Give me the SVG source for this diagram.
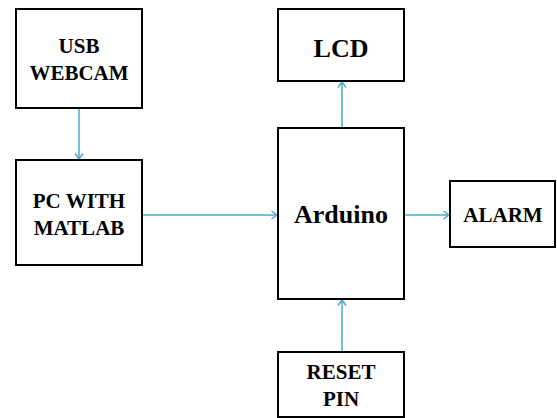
<svg xmlns="http://www.w3.org/2000/svg" width="557" height="418" viewBox="0 0 557 418">
<style>
.box{fill:#fff;stroke:#000;stroke-width:2}
.t{font-family:"Liberation Serif","Times New Roman",serif;font-weight:bold;text-anchor:middle;fill:#000}
.s{font-size:21px}
.b{font-size:26px}
.c{stroke:#4BACC6;stroke-width:1.5;fill:none;marker-end:url(#ah)}
</style>
<defs>
<marker id="ah" markerUnits="userSpaceOnUse" markerWidth="10" markerHeight="10" refX="7" refY="5" orient="auto">
<path d="M1.5,1 L7,5 L1.5,9" fill="none" stroke="#4BACC6" stroke-width="1.5"/>
</marker>
</defs>
<rect width="557" height="418" fill="#fff"/>
<g id="connectors">
<line class="c" x1="79" y1="108" x2="79" y2="159"/>
<line class="c" x1="142" y1="215" x2="277" y2="215"/>
<line class="c" x1="342" y1="128" x2="342" y2="82"/>
<line class="c" x1="404" y1="215" x2="449" y2="215"/>
<line class="c" x1="342" y1="352" x2="342" y2="300"/>
</g>
<g id="usb-webcam">
<rect class="box" x="16" y="9" width="126" height="99"/>
<text class="t s" x="79" y="53">USB</text>
<text class="t s" x="79" y="80">WEBCAM</text>
</g>
<g id="pc-matlab">
<rect class="box" x="16" y="160" width="126" height="105"/>
<text class="t s" x="79" y="208">PC WITH</text>
<text class="t s" x="79" y="235">MATLAB</text>
</g>
<g id="lcd">
<rect class="box" x="278" y="9" width="126" height="72"/>
<text class="t b" x="341" y="57">LCD</text>
</g>
<g id="arduino">
<rect class="box" x="278" y="128" width="126" height="171"/>
<text class="t b" x="341" y="223">Arduino</text>
</g>
<g id="alarm">
<rect class="box" x="450" y="181" width="105" height="66"/>
<text class="t s" x="503" y="222">ALARM</text>
</g>
<g id="reset-pin">
<rect class="box" x="278" y="352" width="126" height="65"/>
<text class="t s" x="341" y="379">RESET</text>
<text class="t s" x="341" y="406">PIN</text>
</g>
</svg>
